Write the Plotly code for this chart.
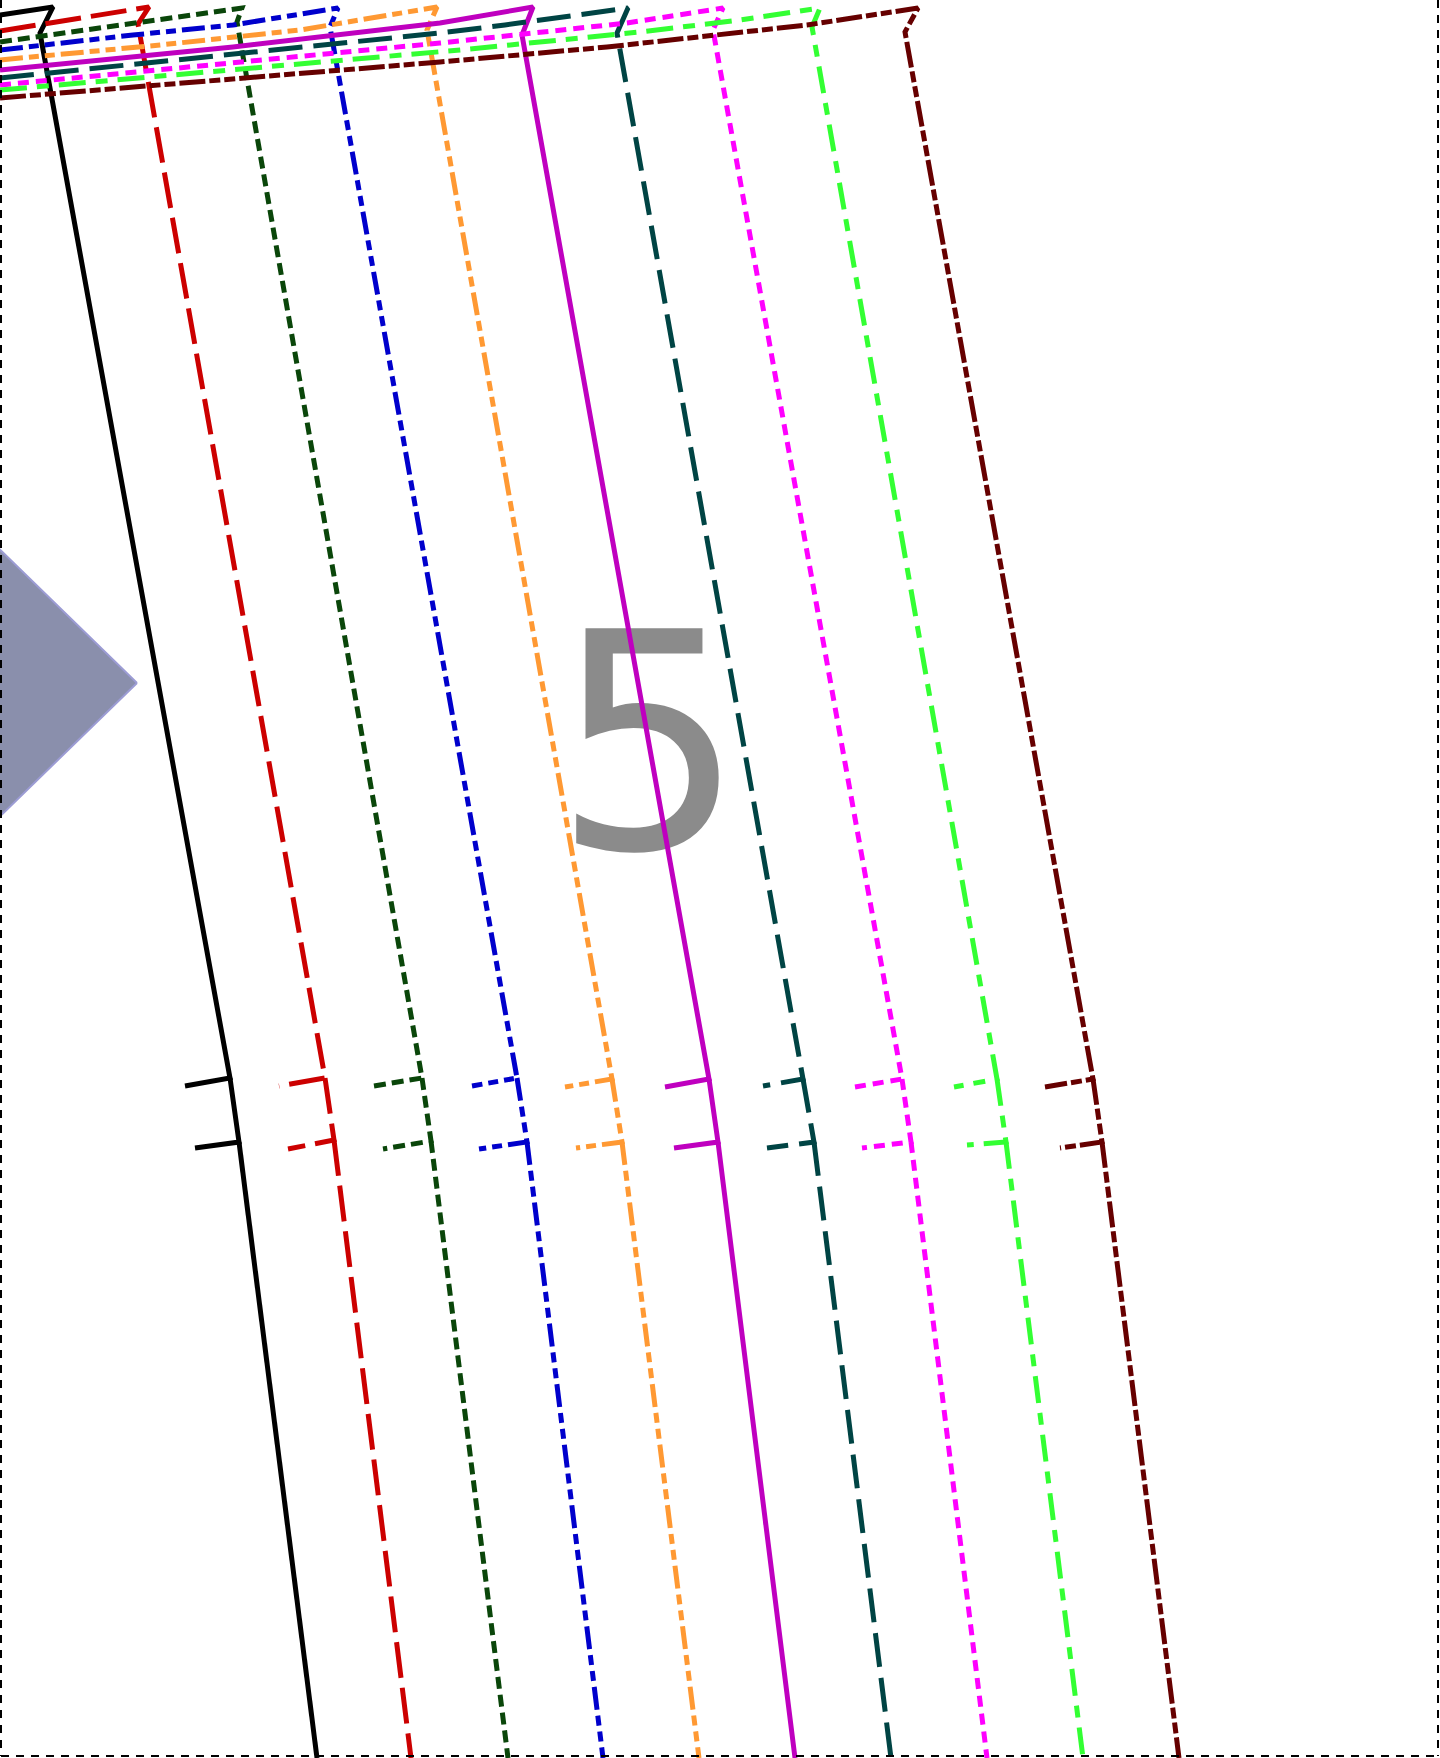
import plotly.graph_objects as go

W, H = 1440, 1758

# ---- series styling ----
names = ["s1", "s2", "s3", "s4", "s5", "s6", "s7", "s8", "s9", "s10"]
colors = ["#000000", "#cc0000", "#0a460a", "#0000cc", "#ff9933",
          "#bf00bf", "#004444", "#ff00ff", "#33ff33", "#660000"]
dashes = ["solid", "36px,10px", "12px,6px", "23px,6px,10px,6px,10px,6px",
          "23px,6px,10px,6px,10px,6px", "solid", "34px,11px", "11px,7px",
          "27px,10px,12px,10px", "26px,4px,11px,4px,11px,4px"]

# ---- top (rising) part of each series ----
top_x = [[0, 53], [0, 149], [0, 140, 242], [0, 133, 233, 338],
         [0, 160, 300, 437], [0, 233, 440, 533], [0, 440, 505, 583, 628],
         [0, 440, 627, 723], [0, 460, 640, 740, 820], [0, 440, 607, 807, 918]]
top_y = [[15, 7], [31, 7], [42, 23, 8], [50, 35, 25, 8],
         [60, 45, 30, 7], [70, 47, 23, 7], [78, 33, 25, 15, 8],
         [85, 43, 23, 8], [90, 50, 32, 20, 8], [98, 62, 47, 25, 8]]

# ---- kink after the peak ----
kink_x = [40, 138, 237, 330, 427, 522, 617, 713, 812, 905]
kink_y = [33, 24, 22, 27, 30, 35, 33, 30, 27, 32]

# ---- junctions and ticks ----
j1_x = [230, 325, 422, 517, 612, 709, 803, 902, 997, 1093]
j1_y = [1078, 1078, 1078, 1078, 1079, 1079, 1079, 1079, 1079, 1079]
t1_x = [185, 279, 374, 472, 565, 665, 763, 855, 954, 1045]
t1_y = [1086, 1086, 1086, 1086, 1087, 1087, 1086, 1087, 1087, 1087]
j2_x = [239, 334, 431, 527, 622, 718, 814, 911, 1006, 1102]
j2_y = [1142, 1140, 1141, 1142, 1142, 1142, 1142, 1142, 1142, 1142]
t2_x = [195, 288, 383, 479, 576, 674, 767, 862, 967, 1060]
t2_y = [1148, 1149, 1149, 1149, 1148, 1148, 1148, 1148, 1145, 1148]

# ---- bottom end of each series ----
bottom_x = [317, 411, 508, 603, 699, 795, 891, 987, 1083, 1179]
bottom_y = 1758

# ---- triangle and label ----
tri_x = [137, -10, -10, 137]
tri_y = [683, 540, 826, 683]
label_text = "5"
label_x = 649
label_y = 773

# ---- frame ----
frame_left_x = 1
frame_right_x = 1438
frame_bottom_y = 1756

fig = go.Figure()

fig.add_trace(go.Scatter(
    x=tri_x, y=tri_y, mode="lines", fill="toself",
    fillcolor="#8a8fac", line=dict(color="#9c9cd4", width=2),
    hoverinfo="skip", showlegend=False))

fig.add_trace(go.Scatter(
    x=[label_x], y=[label_y], mode="text", text=[label_text],
    textposition="middle center",
    textfont=dict(family="DejaVu Sans", size=302, color="#8b8b8b"),
    hoverinfo="skip", showlegend=False))

for i in range(len(names)):
    xs = list(top_x[i]) + [kink_x[i], j1_x[i], t1_x[i], None,
                           j1_x[i], j2_x[i], t2_x[i], None,
                           j2_x[i], bottom_x[i]]
    ys = list(top_y[i]) + [kink_y[i], j1_y[i], t1_y[i], None,
                           j1_y[i], j2_y[i], t2_y[i], None,
                           j2_y[i], bottom_y]
    fig.add_trace(go.Scatter(
        x=xs, y=ys, mode="lines", name=names[i],
        line=dict(color=colors[i], width=5, dash=dashes[i]),
        connectgaps=False, hoverinfo="skip", showlegend=False))

frame_line = dict(color="#000000", width=2, dash="8px,7px")
fig.add_shape(type="line", x0=frame_left_x, x1=frame_left_x, y0=0, y1=frame_bottom_y,
              xref="x", yref="y", line=frame_line)
fig.add_shape(type="line", x0=frame_right_x, x1=frame_right_x, y0=0, y1=frame_bottom_y,
              xref="x", yref="y", line=frame_line)
fig.add_shape(type="line", x0=frame_left_x, x1=frame_right_x, y0=frame_bottom_y, y1=frame_bottom_y,
              xref="x", yref="y", line=frame_line)

fig.update_layout(
    width=W, height=H,
    margin=dict(l=0, r=0, t=0, b=0, pad=0),
    paper_bgcolor="#ffffff", plot_bgcolor="#ffffff",
    showlegend=False, hovermode=False,
    xaxis=dict(range=[0, W], visible=False, fixedrange=True),
    yaxis=dict(range=[H, 0], visible=False, fixedrange=True),
)

fig.write_html("out.html", config={"displayModeBar": False},
               post_script="document.body.style.margin='0';document.body.style.overflow='hidden';")
